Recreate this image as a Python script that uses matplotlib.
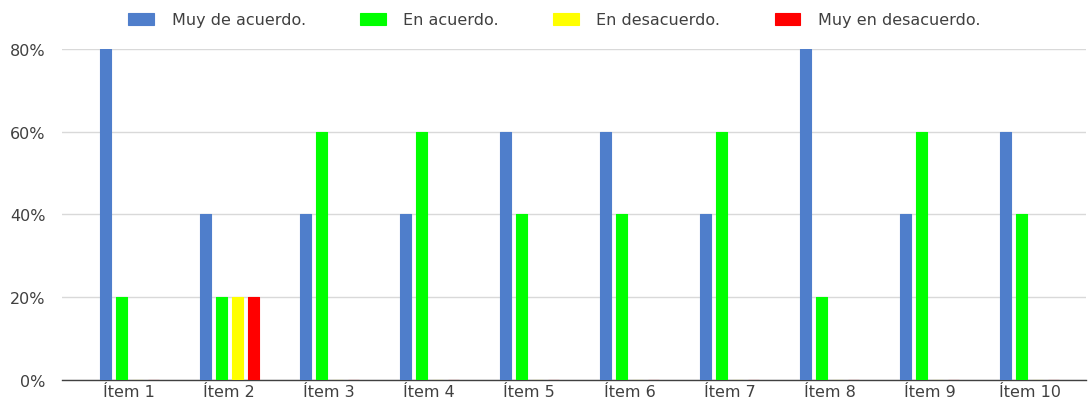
import numpy as np
import matplotlib.pyplot as plt

plt.rcParams['font.family'] = ['DejaVu Sans']

items = ['Ítem 1', 'Ítem 2', 'Ítem 3', 'Ítem 4', 'Ítem 5',
         'Ítem 6', 'Ítem 7', 'Ítem 8', 'Ítem 9', 'Ítem 10']
muy_de_acuerdo = [80, 40, 40, 40, 60, 60, 40, 80, 40, 60]
en_acuerdo = [20, 20, 60, 60, 40, 40, 60, 20, 60, 40]
en_desacuerdo = [0, 20, 0, 0, 0, 0, 0, 0, 0, 0]
muy_en_desacuerdo = [0, 20, 0, 0, 0, 0, 0, 0, 0, 0]

series = [
    ('Muy de acuerdo.', muy_de_acuerdo, '#4f7ecb'),
    ('En acuerdo.', en_acuerdo, '#00ff00'),
    ('En desacuerdo.', en_desacuerdo, '#ffff00'),
    ('Muy en desacuerdo.', muy_en_desacuerdo, '#ff0000'),
]

fig = plt.figure(figsize=(10.89, 4.02), dpi=100)
ax = fig.add_axes([0.057, 0.052, 0.94, 0.824])

x = np.arange(len(items))
step = 0.16
width = 0.11
for i, (label, vals, color) in enumerate(series):
    ax.bar(x + (i - 1.5) * step, vals, width, color=color, label=label,
           edgecolor=color, linewidth=0.8, joinstyle='round', zorder=3)

ax.set_xlim(-0.67, 9.56)
ax.set_ylim(0, 80)
ax.set_yticks([0, 20, 40, 60, 80])
ax.set_yticklabels(['0%', '20%', '40%', '60%', '80%'])
ax.set_xticks(x)
ax.set_xticklabels(items)
ax.tick_params(axis='both', length=0, labelsize=11.5, colors='#404040')
ax.tick_params(axis='x', pad=3)
ax.tick_params(axis='y', pad=12)
ax.grid(axis='y', color='#d9d9d9', linewidth=1, zorder=0)
for s in ['top', 'right', 'left']:
    ax.spines[s].set_visible(False)
ax.spines['bottom'].set_color('#404040')
ax.spines['bottom'].set_linewidth(1)

leg = fig.legend(loc='upper center', bbox_to_anchor=(0.509, 1.003), ncol=4,
                 frameon=False, fontsize=11.5, handlelength=1.6, handleheight=0.8,
                 columnspacing=3.4, handletextpad=1.1)
for t in leg.get_texts():
    t.set_color('#404040')

fig.savefig('out.png', dpi=100)
